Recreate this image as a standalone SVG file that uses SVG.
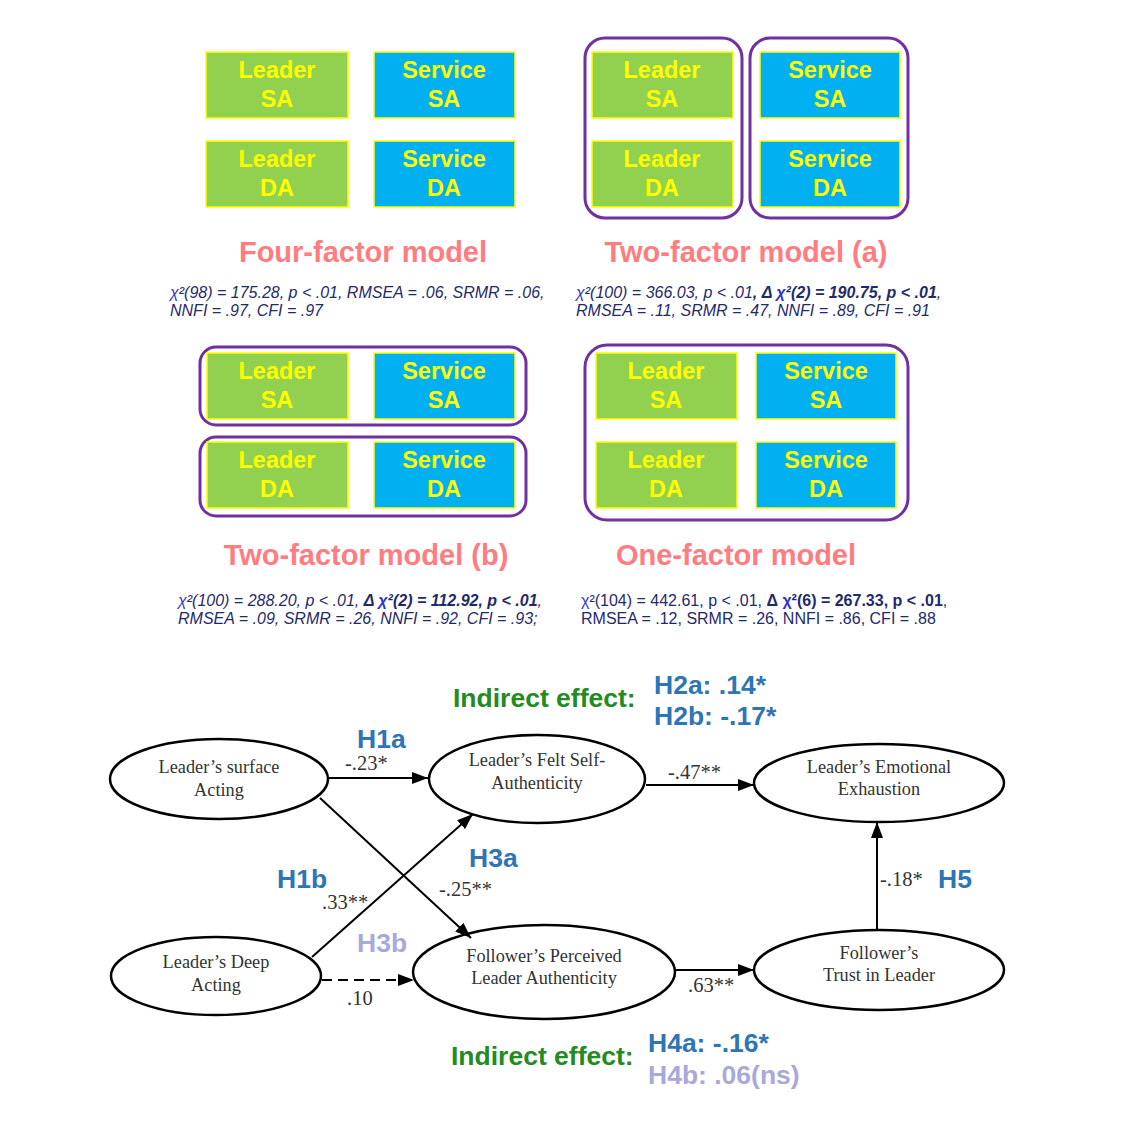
<svg xmlns="http://www.w3.org/2000/svg" width="1134" height="1134" viewBox="0 0 1134 1134">
<style>
.g{fill:#92D050;stroke:#FFFF00;stroke-width:1.5}
.b{fill:#00B0F0;stroke:#FFFF00;stroke-width:1.5}
.bt{font-family:"Liberation Sans",Arial,sans-serif;font-weight:bold;font-size:23.5px;fill:#FFFF00;text-anchor:middle}
.grp{fill:none;stroke:#7030A0;stroke-width:3}
.title{font-family:"Liberation Sans",Arial,sans-serif;font-weight:bold;font-size:29px;fill:#FF7C80;text-anchor:middle}
.st{font-family:"Liberation Sans",Arial,sans-serif;font-size:16px;fill:#1F2A6B}
.it{font-style:italic}
.chi{fill:#3333CC}
.el{fill:#fff;stroke:#000;stroke-width:2.5}
.et{font-family:"Liberation Serif","Times New Roman",serif;font-size:18.3px;fill:#333;text-anchor:middle}
.co{font-family:"Liberation Serif","Times New Roman",serif;font-size:20.5px;fill:#333}
.h{font-family:"Liberation Sans",Arial,sans-serif;font-weight:bold;font-size:26.5px;fill:#2E75B6}
.hl{fill:#A9A9D9}
.ind{font-family:"Liberation Sans",Arial,sans-serif;font-weight:bold;font-size:26.5px;fill:#228B22}
.ln{stroke:#000;stroke-width:2;fill:none;marker-end:url(#ah)}
</style>
<defs>
<marker id="ah" viewBox="0 0 16 12" refX="16" refY="6" markerWidth="16" markerHeight="12" markerUnits="userSpaceOnUse" orient="auto">
<path d="M0,0 L16,6 L0,12 Z" fill="#000"/>
</marker>
</defs>
<rect width="1134" height="1134" fill="#fff"/>

<!-- Four-factor model -->
<g id="four-factor">
<rect class="g" x="206" y="52" width="142" height="66"/><text class="bt" x="277" y="78">Leader</text><text class="bt" x="277" y="107">SA</text>
<rect class="b" x="374" y="52" width="141" height="66"/><text class="bt" x="444" y="78">Service</text><text class="bt" x="444" y="107">SA</text>
<rect class="g" x="206" y="141" width="142" height="66"/><text class="bt" x="277" y="167">Leader</text><text class="bt" x="277" y="196">DA</text>
<rect class="b" x="374" y="141" width="141" height="66"/><text class="bt" x="444" y="167">Service</text><text class="bt" x="444" y="196">DA</text>
<text class="title" x="363" y="262">Four-factor model</text>
<text class="st it" x="170" y="298"><tspan class="chi">χ</tspan>²(98) = 175.28, p &lt; .01, RMSEA = .06, SRMR = .06,</text>
<text class="st it" x="170" y="316">NNFI = .97, CFI = .97</text>
</g>

<!-- Two-factor model (a) -->
<g id="two-factor-a">
<rect class="grp" x="585" y="38" width="157" height="180" rx="20"/>
<rect class="grp" x="750" y="38" width="158" height="180" rx="20"/>
<rect class="g" x="592" y="52" width="141" height="66"/><text class="bt" x="662" y="78">Leader</text><text class="bt" x="662" y="107">SA</text>
<rect class="b" x="760" y="52" width="140" height="66"/><text class="bt" x="830" y="78">Service</text><text class="bt" x="830" y="107">SA</text>
<rect class="g" x="592" y="141" width="141" height="66"/><text class="bt" x="662" y="167">Leader</text><text class="bt" x="662" y="196">DA</text>
<rect class="b" x="760" y="141" width="140" height="66"/><text class="bt" x="830" y="167">Service</text><text class="bt" x="830" y="196">DA</text>
<text class="title" x="746" y="262">Two-factor model (a)</text>
<text class="st it" x="576" y="298"><tspan class="chi">χ</tspan>²(100) = 366.03, p &lt; .01<tspan font-weight="bold">, Δ </tspan><tspan class="chi" font-weight="bold">χ</tspan><tspan font-weight="bold">²(2) = 190.75, p &lt; .01</tspan>,</text>
<text class="st it" x="576" y="316">RMSEA = .11, SRMR = .47, NNFI = .89, CFI = .91</text>
</g>

<!-- Two-factor model (b) -->
<g id="two-factor-b">
<rect class="grp" x="200" y="347" width="326" height="78" rx="16"/>
<rect class="grp" x="200" y="437" width="326" height="79" rx="16"/>
<rect class="g" x="207" y="353" width="141" height="66"/><text class="bt" x="277" y="379">Leader</text><text class="bt" x="277" y="408">SA</text>
<rect class="b" x="374" y="353" width="141" height="66"/><text class="bt" x="444" y="379">Service</text><text class="bt" x="444" y="408">SA</text>
<rect class="g" x="207" y="442" width="141" height="66"/><text class="bt" x="277" y="468">Leader</text><text class="bt" x="277" y="497">DA</text>
<rect class="b" x="374" y="442" width="141" height="66"/><text class="bt" x="444" y="468">Service</text><text class="bt" x="444" y="497">DA</text>
<text class="title" x="366" y="565">Two-factor model (b)</text>
<text class="st it" x="178" y="606"><tspan class="chi">χ</tspan>²(100) = 288.20, p &lt; .01, <tspan font-weight="bold">Δ </tspan><tspan class="chi" font-weight="bold">χ</tspan><tspan font-weight="bold">²(2) = 112.92, p &lt; .01</tspan>,</text>
<text class="st it" x="178" y="624">RMSEA = .09, SRMR = .26, NNFI = .92, CFI = .93;</text>
</g>

<!-- One-factor model -->
<g id="one-factor">
<rect class="grp" x="585" y="345" width="323" height="175" rx="22"/>
<rect class="g" x="596" y="353" width="141" height="66"/><text class="bt" x="666" y="379">Leader</text><text class="bt" x="666" y="408">SA</text>
<rect class="b" x="756" y="353" width="140" height="66"/><text class="bt" x="826" y="379">Service</text><text class="bt" x="826" y="408">SA</text>
<rect class="g" x="596" y="442" width="141" height="66"/><text class="bt" x="666" y="468">Leader</text><text class="bt" x="666" y="497">DA</text>
<rect class="b" x="756" y="442" width="140" height="66"/><text class="bt" x="826" y="468">Service</text><text class="bt" x="826" y="497">DA</text>
<text class="title" x="736" y="565">One-factor model</text>
<text class="st" x="581" y="606"><tspan class="chi">χ</tspan>²(104) = 442.61, p &lt; .01, <tspan font-weight="bold">Δ </tspan><tspan class="chi" font-weight="bold">χ</tspan><tspan font-weight="bold">²(6) = 267.33, p &lt; .01</tspan>,</text>
<text class="st" x="581" y="624">RMSEA = .12, SRMR = .26, NNFI = .86, CFI = .88</text>
</g>

<!-- SEM nodes -->
<g id="surface-acting"><ellipse class="el" cx="219" cy="779" rx="109" ry="40"/><text class="et" x="219" y="773">Leader’s surface</text><text class="et" x="219" y="796">Acting</text></g>
<g id="felt-authenticity"><ellipse class="el" cx="537" cy="779" rx="108" ry="44"/><text class="et" x="537" y="766">Leader’s Felt Self-</text><text class="et" x="537" y="789">Authenticity</text></g>
<g id="emotional-exhaustion"><ellipse class="el" cx="879" cy="783" rx="125" ry="39"/><text class="et" x="879" y="773">Leader’s Emotional</text><text class="et" x="879" y="795">Exhaustion</text></g>
<g id="deep-acting"><ellipse class="el" cx="216" cy="976" rx="105" ry="39"/><text class="et" x="216" y="968">Leader’s Deep</text><text class="et" x="216" y="991">Acting</text></g>
<g id="perceived-authenticity"><ellipse class="el" cx="544" cy="972" rx="131" ry="47"/><text class="et" x="544" y="962">Follower’s Perceived</text><text class="et" x="544" y="984">Leader Authenticity</text></g>
<g id="trust-in-leader"><ellipse class="el" cx="879" cy="970" rx="125" ry="40"/><text class="et" x="879" y="959">Follower’s</text><text class="et" x="879" y="981">Trust in Leader</text></g>

<!-- Connectors -->
<g id="connectors">
<line class="ln" x1="329" y1="778" x2="428" y2="778"/>
<line class="ln" x1="646" y1="785" x2="754" y2="785"/>
<line class="ln" x1="320" y1="798" x2="471" y2="938"/>
<line class="ln" x1="312" y1="957" x2="473" y2="814"/>
<line class="ln" x1="322" y1="980" x2="414" y2="980" stroke-dasharray="10,6"/>
<line class="ln" x1="675" y1="970" x2="754" y2="970"/>
<line class="ln" x1="877" y1="930" x2="877" y2="822"/>
</g>

<!-- Labels -->
<g id="labels">
<text class="h" x="357" y="748">H1a</text>
<text class="co" x="345" y="770">-.23*</text>
<text class="co" x="668" y="779">-.47**</text>
<text class="h" x="277" y="888">H1b</text>
<text class="co" x="322" y="909">.33**</text>
<text class="h" x="469" y="867">H3a</text>
<text class="co" x="439" y="896">-.25**</text>
<text class="h hl" x="357" y="952">H3b</text>
<text class="co" x="347" y="1005">.10</text>
<text class="co" x="688" y="992">.63**</text>
<text class="co" x="880" y="886">-.18*</text>
<text class="h" x="938" y="888">H5</text>
<text class="ind" x="453" y="707">Indirect effect:</text>
<text class="h" x="654" y="694">H2a: .14*</text>
<text class="h" x="654" y="725">H2b: -.17*</text>
<text class="ind" x="451" y="1065">Indirect effect:</text>
<text class="h" x="648" y="1052">H4a: -.16*</text>
<text class="h hl" x="648" y="1084">H4b: .06(ns)</text>
</g>
</svg>
